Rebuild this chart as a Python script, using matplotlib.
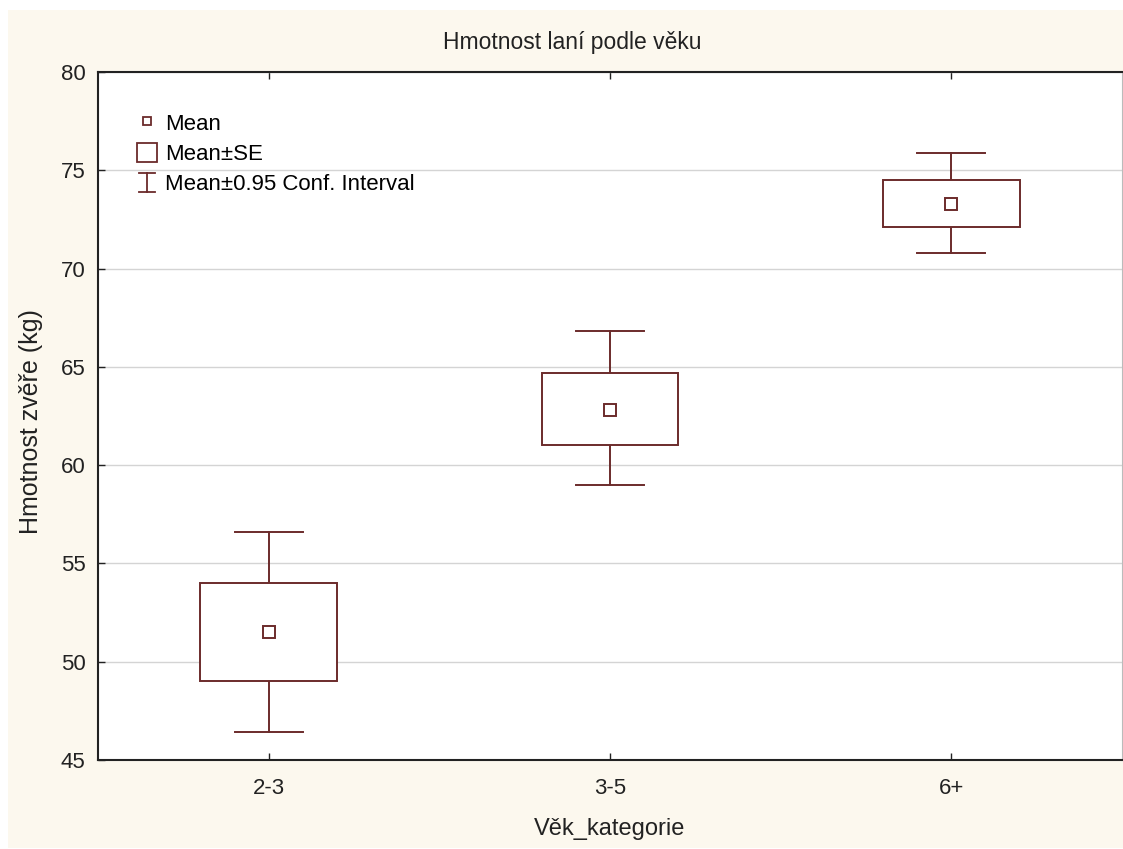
import matplotlib
matplotlib.use("Agg")
import matplotlib.pyplot as plt
from matplotlib.lines import Line2D
from matplotlib.patches import Rectangle
from matplotlib.legend_handler import HandlerBase

plt.rcParams['font.family'] = ['Liberation Sans', 'DejaVu Sans']

# group summaries: mean, mean +/- SE, mean +/- 95 % CI
categories = ['2-3', '3-5', '6+']
means = [51.5, 62.8, 73.3]
se_low = [49.0, 61.0, 72.1]
se_high = [54.0, 64.7, 74.5]
ci_low = [46.4, 59.0, 70.8]
ci_high = [56.6, 66.8, 75.9]

col = '#6b2b2b'
cream = '#fcf8ee'
txt = '#222222'


class WhiskerHandler(HandlerBase):
    # I-shaped legend key for the confidence interval
    def create_artists(self, legend, orig, xd, yd, w, h, fs, trans):
        cx = -xd + w / 2
        top = -yd + h
        bot = -yd
        cap = 6
        return [Line2D([cx, cx], [bot, top], color=col, lw=1.3, transform=trans),
                Line2D([cx - cap, cx + cap], [top, top], color=col, lw=1.3, transform=trans),
                Line2D([cx - cap, cx + cap], [bot, bot], color=col, lw=1.3, transform=trans)]


fig = plt.figure(figsize=(11.23, 8.49), dpi=100, facecolor='white')
fig.patches.append(Rectangle((8 / 1123, 1 / 849), 1 - 8 / 1123, 1 - 11 / 849,
                             transform=fig.transFigure, facecolor=cream,
                             edgecolor='none', zorder=-10))
ax = fig.add_axes([98 / 1123, 89 / 849, 1024 / 1123, 688 / 849])
ax.set_facecolor('white')

box_w = 0.4
cap_w = 0.2
for i in range(len(categories)):
    ax.plot([i, i], [ci_low[i], se_low[i]], color=col, lw=1.4, zorder=3)
    ax.plot([i, i], [se_high[i], ci_high[i]], color=col, lw=1.4, zorder=3)
    ax.plot([i - cap_w / 2, i + cap_w / 2], [ci_low[i], ci_low[i]], color=col, lw=1.4, zorder=3)
    ax.plot([i - cap_w / 2, i + cap_w / 2], [ci_high[i], ci_high[i]], color=col, lw=1.4, zorder=3)
    ax.add_patch(Rectangle((i - box_w / 2, se_low[i]), box_w, se_high[i] - se_low[i],
                           facecolor='white', edgecolor=col, lw=1.4, zorder=3))
ax.plot(range(len(categories)), means, ls='none', marker='s', ms=8,
        mfc='white', mec=col, mew=1.4, zorder=4)

ax.set_xlim(-0.5, 2.5)
ax.set_ylim(45, 80)
ax.set_xticks(range(len(categories)))
ax.set_xticklabels(categories)
ax.set_yticks(range(45, 81, 5))
ax.yaxis.grid(True, color='#d4d4d4', lw=1)
ax.set_axisbelow(True)
ax.tick_params(direction='in', length=5, width=1, labelsize=16, colors=txt,
               top=True, pad=9)
ax.tick_params(axis='x', pad=13)
for s in ['left', 'bottom', 'top']:
    ax.spines[s].set_linewidth(1.5)
    ax.spines[s].set_color(txt)
ax.spines['right'].set_color('#bbbbbb')

fig.text(572 / 1123, 1 - 42 / 849, 'Hmotnost laní podle věku', ha='center', va='center',
         fontsize=16.5, color=txt)
fig.text(610 / 1123, 1 - 829 / 849, 'Věk_kategorie', ha='center', va='center',
         fontsize=17, color=txt)
fig.text(31 / 1123, 1 - 422 / 849, 'Hmotnost zvěře (kg)', ha='center', va='center',
         rotation=90, fontsize=18, color=txt)

h_mean = Line2D([], [], ls='none', marker='s', ms=6, mfc='white', mec=col, mew=1.3)
h_se = Rectangle((0, 0), 1, 1, facecolor='white', edgecolor=col, lw=1.3)
h_ci = object()
ax.legend([h_mean, h_se, h_ci], ['Mean', 'Mean±SE', 'Mean±0.95 Conf. Interval'],
          handler_map={object: WhiskerHandler()}, loc='upper left',
          bbox_to_anchor=(39 / 1024, 1 - 41 / 688), frameon=False, fontsize=16,
          handlelength=0.9, handleheight=0.9, handletextpad=0.35, labelspacing=0.37,
          borderaxespad=0, borderpad=0)

fig.savefig('out.png', dpi=100, facecolor=fig.get_facecolor())
